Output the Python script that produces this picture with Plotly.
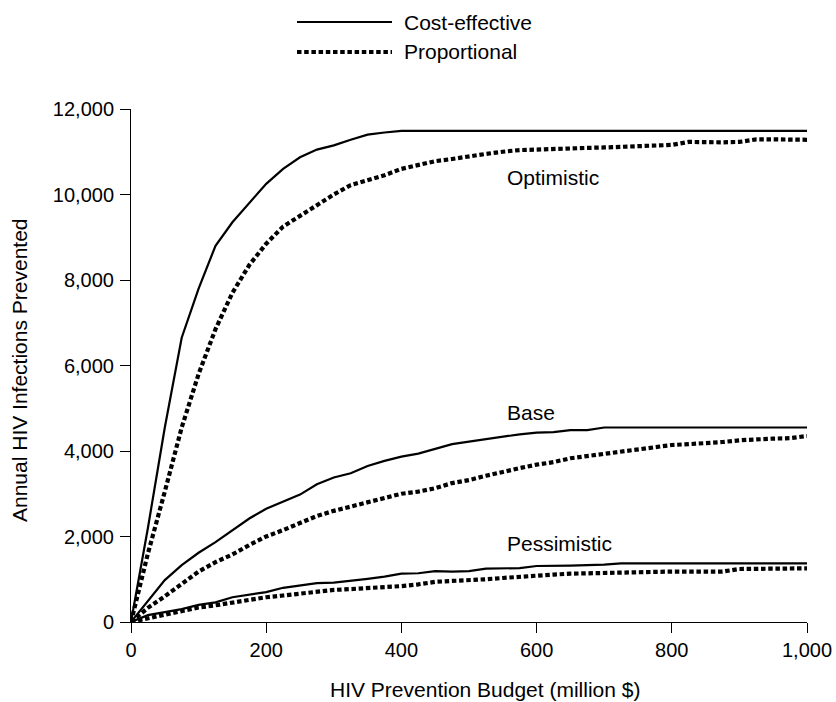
import plotly.graph_objects as go

budget = [0, 25, 50, 75, 100, 125, 150, 175, 200, 225, 250, 275, 300, 325, 350, 375, 400,
          425, 450, 475, 500, 525, 550, 575, 600, 625, 650, 675, 700, 725, 750, 775, 800,
          825, 850, 875, 900, 925, 950, 975, 1000]

opt_cost = [0, 2200, 4550, 6650, 7800, 8800, 9350, 9800, 10250, 10600, 10870, 11050, 11150, 11280, 11400, 11450, 11490,
            11490, 11490, 11490, 11490, 11490, 11490, 11490, 11490, 11490, 11490, 11490, 11490, 11490, 11490, 11490, 11490,
            11490, 11490, 11490, 11490, 11490, 11490, 11490, 11490]
opt_prop = [0, 1600, 3050, 4550, 5800, 6850, 7700, 8350, 8850, 9250, 9500, 9750, 10000, 10220, 10330, 10450, 10600,
            10700, 10780, 10830, 10900, 10950, 11000, 11040, 11050, 11070, 11080, 11090, 11100, 11110, 11120, 11140, 11160,
            11230, 11220, 11220, 11230, 11290, 11290, 11290, 11280]
base_cost = [0, 500, 980, 1330, 1620, 1870, 2150, 2420, 2650, 2820, 2980, 3220, 3380, 3480, 3650, 3770, 3870,
             3940, 4050, 4160, 4220, 4280, 4340, 4390, 4430, 4440, 4490, 4490, 4550, 4550, 4550, 4550, 4550,
             4550, 4550, 4550, 4550, 4550, 4550, 4550, 4550]
base_prop = [0, 330, 600, 880, 1180, 1400, 1580, 1800, 2000, 2150, 2320, 2480, 2600, 2700, 2780, 2880, 3000,
             3050, 3130, 3250, 3320, 3420, 3520, 3600, 3680, 3740, 3830, 3880, 3940, 3990, 4040, 4080, 4140,
             4160, 4180, 4210, 4250, 4280, 4290, 4300, 4350]
pess_cost = [0, 160, 230, 300, 400, 460, 580, 640, 700, 800, 850, 910, 920, 960, 1010, 1060, 1130,
             1140, 1190, 1180, 1190, 1250, 1250, 1260, 1310, 1310, 1320, 1330, 1340, 1370, 1370, 1370, 1370,
             1370, 1370, 1370, 1370, 1370, 1370, 1370, 1370]
pess_prop = [0, 90, 180, 260, 340, 390, 460, 510, 580, 620, 670, 720, 750, 770, 790, 810, 840,
             880, 940, 960, 970, 1000, 1030, 1060, 1100, 1110, 1130, 1140, 1150, 1170, 1180, 1180, 1180,
             1180, 1180, 1180, 1240, 1240, 1250, 1250, 1255]

scenario_labels = ["Optimistic", "Base", "Pessimistic"]
label_x = [553, 553, 553]
label_y = [10390, 4890, 1830]
legend_names = ["Cost-effective", "Proportional"]
x_ticks = [0, 200, 400, 600, 800, 1000]
y_ticks = [0, 2000, 4000, 6000, 8000, 10000, 12000]

FONT = "Liberation Sans, Arial, sans-serif"
solid = dict(color="black", width=2.2)
dotted = dict(color="black", width=4.2, dash="4.5px,2.7px")

fig = go.Figure()
for ys in [opt_cost, base_cost, pess_cost]:
    fig.add_trace(go.Scatter(x=budget, y=ys, mode="lines", line=solid, showlegend=False, hoverinfo="skip"))
for ys in [opt_prop, base_prop, pess_prop]:
    fig.add_trace(go.Scatter(x=budget, y=ys, mode="lines", line=dotted, showlegend=False, hoverinfo="skip"))

annotations = []
for t, xx, yy in zip(scenario_labels, label_x, label_y):
    annotations.append(dict(x=xx, y=yy, xref="x", yref="y", text=t, showarrow=False,
                            xanchor="left", yanchor="middle", font=dict(size=21, color="black", family=FONT)))

# custom legend (paper coords)
leg_y = [22, 52]
shapes = []
for name, yp, st in zip(legend_names, leg_y, [solid, dotted]):
    ypap = (622 - yp) / 513
    shapes.append(dict(type="line", xref="paper", yref="paper", x0=(297 - 131) / 676, x1=(392 - 131) / 676,
                       y0=ypap, y1=ypap, line=st))
    annotations.append(dict(x=(402 - 131) / 676, y=ypap, xref="paper", yref="paper", text=name, showarrow=False,
                            xanchor="left", yanchor="middle", font=dict(size=21, color="black", family=FONT)))

annotations.append(dict(x=(485 - 131) / 676, y=(622 - 689) / 513, xref="paper", yref="paper",
                        text="HIV Prevention Budget (million $)", showarrow=False, xanchor="center", yanchor="middle",
                        font=dict(size=21, color="black", family=FONT)))
annotations.append(dict(x=(19 - 131) / 676, y=(622 - 370) / 513, xref="paper", yref="paper",
                        text="Annual HIV Infections Prevented", showarrow=False, textangle=-90,
                        xanchor="center", yanchor="middle", font=dict(size=21, color="black", family=FONT)))

fig.update_layout(
    width=836, height=702,
    margin=dict(l=131, r=29, t=109, b=80, autoexpand=False),
    paper_bgcolor="white", plot_bgcolor="white",
    font=dict(family=FONT, size=20, color="black"),
    annotations=annotations, shapes=shapes,
    showlegend=False,
)
fig.update_xaxes(range=[0, 1000], tickvals=x_ticks, ticktext=[f"{v:,}" for v in x_ticks],
                 showgrid=False, zeroline=False, showline=True, linecolor="black", linewidth=1,
                 ticks="outside", ticklen=10, tickcolor="black", tickwidth=1, automargin=False,
                 tickfont=dict(size=20, family=FONT, color="black"))
fig.update_yaxes(range=[0, 12000], tickvals=y_ticks, ticktext=[f"{v:,}" for v in y_ticks],
                 showgrid=False, zeroline=False, showline=True, linecolor="black", linewidth=1,
                 ticks="outside", ticklen=10, tickcolor="black", tickwidth=1, ticklabelstandoff=2,
                 automargin=False, tickfont=dict(size=20, family=FONT, color="black"))

fig.write_html("out.html", config={"displayModeBar": False, "staticPlot": True},
               post_script="document.body.style.margin='0px';document.body.style.overflow='hidden';")
